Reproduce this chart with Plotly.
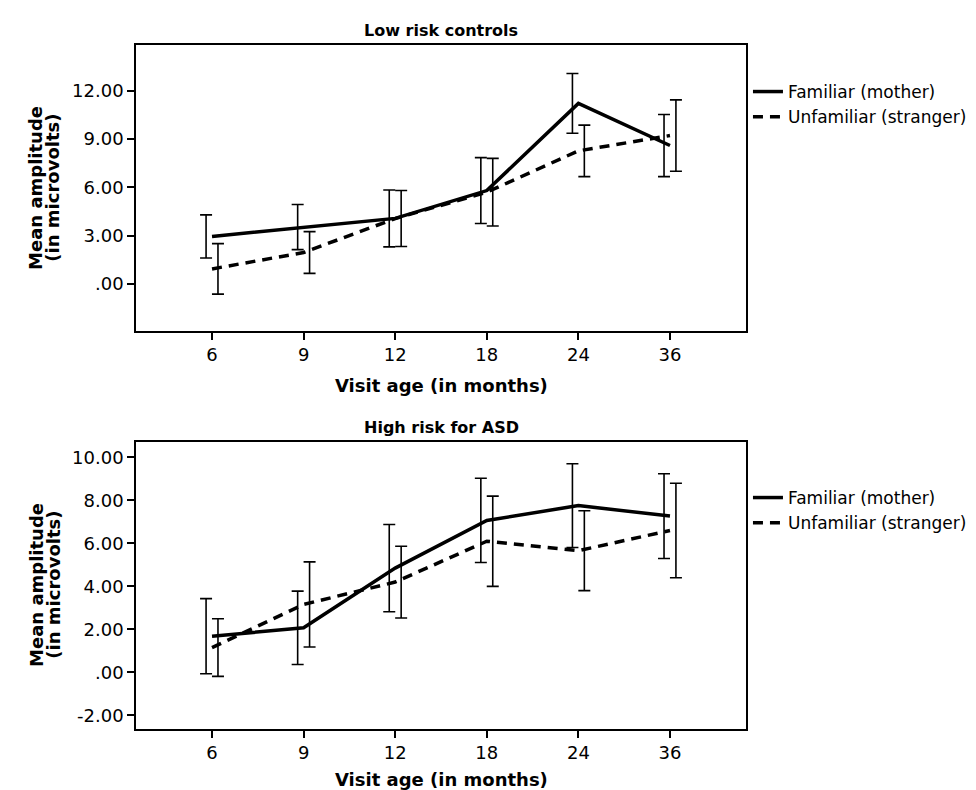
import plotly.graph_objects as go

# ---------------- data ----------------
visit_labels = ["6", "9", "12", "18", "24", "36"]
series_names = ["Familiar (mother)", "Unfamiliar (stranger)"]

# Low risk controls
low_fam_mean = [2.95, 3.53, 4.07, 5.80, 11.22, 8.60]
low_fam_ci = [1.34, 1.40, 1.77, 2.05, 1.86, 1.93]
low_unf_mean = [0.93, 1.95, 4.06, 5.70, 8.27, 9.22]
low_unf_ci = [1.57, 1.30, 1.74, 2.10, 1.60, 2.22]

# High risk for ASD
high_fam_mean = [1.68, 2.07, 4.85, 7.07, 7.76, 7.27]
high_fam_ci = [1.75, 1.71, 2.03, 1.96, 1.95, 1.97]
high_unf_mean = [1.15, 3.16, 4.20, 6.10, 5.66, 6.60]
high_unf_ci = [1.34, 1.98, 1.67, 2.10, 1.86, 2.20]

low_yticks = [0, 3, 6, 9, 12]
high_yticks = [-2, 0, 2, 4, 6, 8, 10]


def fmt(v):
    s = f"{v:.2f}"
    if s.startswith("0."):
        s = s[1:]
    return s


FONT = "DejaVu Sans"
W, H = 976, 790
ML, MR, MT, MB = 128, 226, 37, 69
PH = H - MT - MB
PW = W - ML - MR


def py(px):  # pixel y -> paper y
    return (H - MB - px) / PH


def pxx(px):  # pixel x -> paper x
    return (px - ML) / PW


x_idx = list(range(len(visit_labels)))
off = 0.065

fig = go.Figure()

panels = [
    ("x", "y", "legend", low_fam_mean, low_fam_ci, low_unf_mean, low_unf_ci),
    ("x2", "y2", "legend2", high_fam_mean, high_fam_ci, high_unf_mean, high_unf_ci),
]

for xa, ya, lg, fm, fc, um, uc in panels:
    # error bars (offset around category centre)
    fig.add_trace(go.Scatter(
        x=[i - off for i in x_idx], y=fm, mode="markers",
        marker=dict(size=0, color="rgba(0,0,0,0)"),
        error_y=dict(type="data", array=fc, visible=True, color="black",
                     thickness=1.6, width=6),
        xaxis=xa, yaxis=ya, showlegend=False, hoverinfo="skip"))
    fig.add_trace(go.Scatter(
        x=[i + off for i in x_idx], y=um, mode="markers",
        marker=dict(size=0, color="rgba(0,0,0,0)"),
        error_y=dict(type="data", array=uc, visible=True, color="black",
                     thickness=1.6, width=6),
        xaxis=xa, yaxis=ya, showlegend=False, hoverinfo="skip"))
    # lines
    fig.add_trace(go.Scatter(
        x=x_idx, y=fm, mode="lines", name=series_names[0],
        line=dict(color="black", width=3.5),
        xaxis=xa, yaxis=ya, legend=lg))
    fig.add_trace(go.Scatter(
        x=x_idx, y=um, mode="lines", name=series_names[1],
        line=dict(color="black", width=3.5, dash="10px,7px"),
        xaxis=xa, yaxis=ya, legend=lg))

axis_common = dict(
    showline=True, linecolor="black", linewidth=1.6, mirror=True,
    ticks="outside", ticklen=7, tickwidth=2, tickcolor="black",
    showgrid=False, zeroline=False,
    tickfont=dict(family=FONT, size=18, color="black"),
)

fig.update_layout(
    width=W, height=H,
    margin=dict(l=ML, r=MR, t=MT, b=MB),
    paper_bgcolor="white", plot_bgcolor="white",
    font=dict(family=FONT, color="black"),
    xaxis=dict(domain=[0, 1], anchor="y", range=[-0.83, 5.83],
               tickvals=x_idx, ticktext=visit_labels, **axis_common),
    yaxis=dict(domain=[py(323), 1], anchor="x", range=[-2.93, 14.85],
               tickvals=low_yticks, ticktext=[fmt(v) for v in low_yticks],
               **axis_common),
    xaxis2=dict(domain=[0, 1], anchor="y2", range=[-0.83, 5.83],
                tickvals=x_idx, ticktext=visit_labels, **axis_common),
    yaxis2=dict(domain=[0, py(434)], anchor="x2", range=[-2.64, 10.72],
                tickvals=high_yticks, ticktext=[fmt(v) for v in high_yticks],
                **axis_common),
    legend=dict(x=pxx(752), y=py(66), xanchor="left", yanchor="top",
                font=dict(family=FONT, size=17, color="black"),
                itemwidth=30, bgcolor="rgba(0,0,0,0)", tracegroupgap=0),
    legend2=dict(x=pxx(752), y=py(472), xanchor="left", yanchor="top",
                 font=dict(family=FONT, size=17, color="black"),
                 itemwidth=30, bgcolor="rgba(0,0,0,0)", tracegroupgap=0),
)

ann = []
# panel titles
ann.append(dict(text="<b>Low risk controls</b>", x=0.5, y=py(22)))
ann.append(dict(text="<b>High risk for ASD</b>", x=0.5, y=py(420)))
for a in ann:
    a.update(xref="paper", yref="paper", showarrow=False, xanchor="center",
             yanchor="middle", font=dict(family=FONT, size=16, color="black"))
axis_titles = [
    dict(text="<b>Visit age (in months)</b>", x=0.5, y=py(377), textangle=0),
    dict(text="<b>Visit age (in months)</b>", x=0.5, y=py(771), textangle=0),
    dict(text="<b>Mean amplitude</b>", x=pxx(26), y=py(180), textangle=-90),
    dict(text="<b>(in microvolts)</b>", x=pxx(43), y=py(180), textangle=-90),
    dict(text="<b>Mean amplitude</b>", x=pxx(26), y=py(577), textangle=-90),
    dict(text="<b>(in microvolts)</b>", x=pxx(43), y=py(577), textangle=-90),
]
for a in axis_titles:
    a.update(xref="paper", yref="paper", showarrow=False, xanchor="center",
             yanchor="middle", font=dict(family=FONT, size=18, color="black"))
fig.update_layout(annotations=ann + axis_titles)

fig.write_html("out.html")
